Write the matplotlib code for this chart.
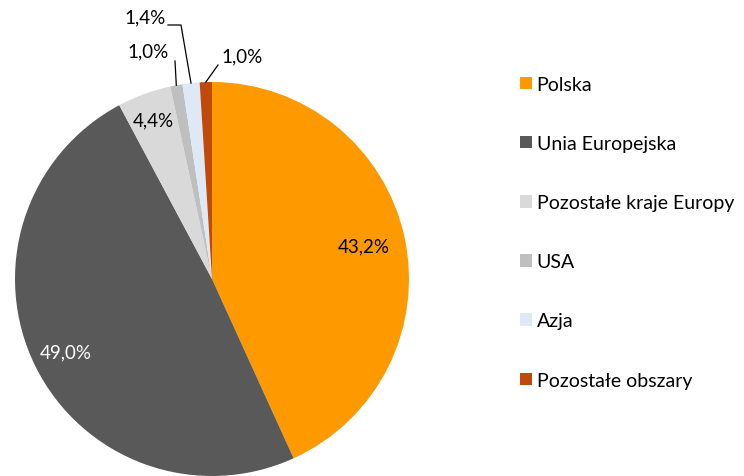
import numpy as np
import matplotlib
matplotlib.use("Agg")
import matplotlib.pyplot as plt
from matplotlib.patches import Patch

plt.rcParams["font.family"] = ["Lato", "DejaVu Sans"]

categories = ["Polska", "Unia Europejska", "Pozostałe kraje Europy", "USA", "Azja", "Pozostałe obszary"]
shares = [43.2, 49.0, 4.4, 1.0, 1.4, 1.0]
colors = ["#FF9900", "#595959", "#D9D9D9", "#BFBFBF", "#DDEAF6", "#BF4A0C"]

W, H = 744, 477
R_PX = 197  # pie radius in pixels
CX, CY = 212, 280  # pie centre in pixels (from top-left)

fig = plt.figure(figsize=(W / 100, H / 100), dpi=100)
ax = fig.add_axes([0, 0, 1, 1])

wedges, _ = ax.pie(shares, colors=colors, startangle=90, counterclock=False,
                   radius=1.0, center=(0, 0), frame=True,
                   wedgeprops=dict(linewidth=0))
ax.set_xlim(-CX / R_PX, (W - CX) / R_PX)
ax.set_ylim(-(H - CY) / R_PX, CY / R_PX)
ax.set_aspect("equal")
ax.axis("off")


def fmt(v):
    return f"{v:.1f}%".replace(".", ",")


# mid angles of each slice
cum = np.cumsum([0] + shares)
mids = [np.deg2rad(90 - (cum[i] + shares[i] / 2) / 100 * 360) for i in range(len(shares))]


def px(x, y):
    # pixel position -> data coords
    return (x - CX) / R_PX, (CY - y) / R_PX


FS = 13.5
# inside labels
inside = {0: (0.79, "black"), 1: (0.83, "white"), 2: (0.86, "black")}
for i, (r, c) in inside.items():
    ax.text(r * np.cos(mids[i]), r * np.sin(mids[i]), fmt(shares[i]),
            ha="center", va="center", fontsize=FS, color=c)

# outside labels with leader lines
lc = dict(color="black", lw=0.9)
# USA
i = 3
ex, ey = np.cos(mids[i]), np.sin(mids[i])
x0, y0 = px(175, 62)
ax.plot([x0, ex], [y0, ey], **lc)
ax.text(*px(148, 52), fmt(shares[i]), ha="center", va="center", fontsize=FS)
# Azja
i = 4
ex, ey = np.cos(mids[i]), np.sin(mids[i])
x0, y0 = px(168, 26)
x1, _ = px(181, 26)
ax.plot([x0, x1, ex], [y0, y0, ey], **lc)
ax.text(*px(145, 18), fmt(shares[i]), ha="center", va="center", fontsize=FS)
# Pozostałe obszary
i = 5
ex, ey = np.cos(mids[i]), np.sin(mids[i])
x0, y0 = px(218, 66)
ax.plot([x0, ex], [y0, ey], **lc)
ax.text(*px(242, 57), fmt(shares[i]), ha="center", va="center", fontsize=FS)

handles = [Patch(facecolor=c, edgecolor="none") for c in colors]
leg = fig.legend(handles, categories, loc="upper left",
                 bbox_to_anchor=(510 / W, 1 - 67 / H), frameon=False,
                 fontsize=14, handlelength=0.62, handleheight=0.62,
                 handletextpad=0.25, labelspacing=2.17, borderpad=0)

fig.savefig("out.png", dpi=100)
